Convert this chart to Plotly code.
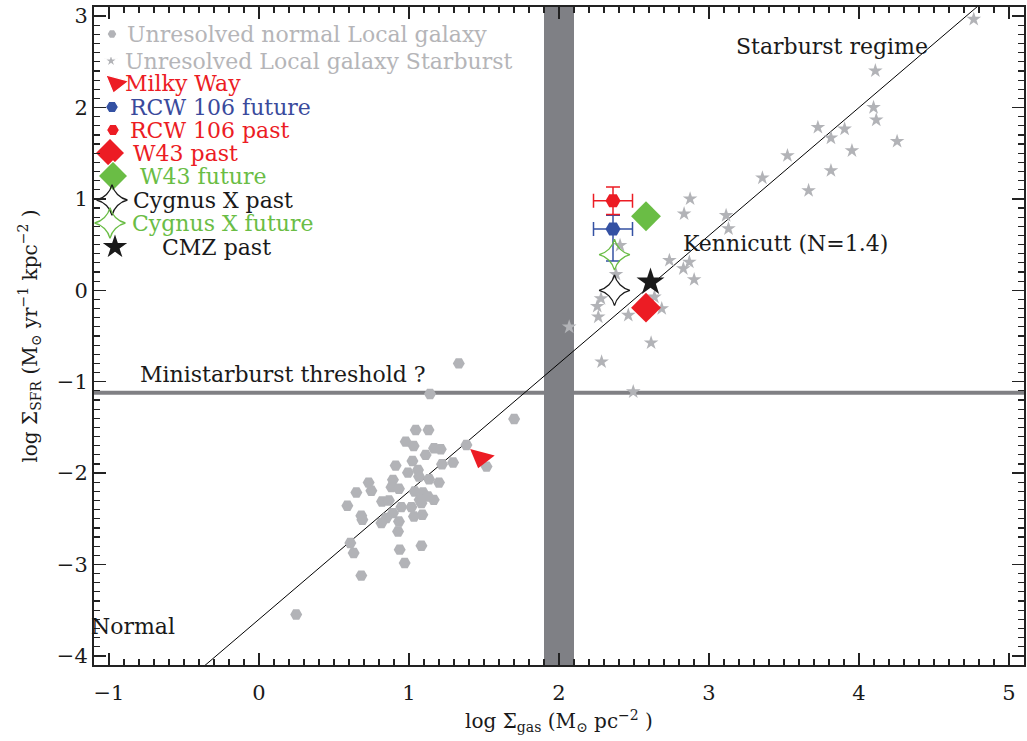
import plotly.graph_objects as go

# ---------------- data ----------------
# Unresolved normal local galaxies (log Sigma_gas, log Sigma_SFR)
normal_x = [1.332, 1.140, 1.701, 1.045, 1.130, 0.978, 1.031, 1.167, 1.212, 1.383,
            1.111, 1.023, 1.294, 1.220, 0.911, 1.517, 1.060, 0.993, 1.067, 1.134,
            0.893, 0.731, 1.200, 0.883, 0.933, 0.749, 0.649, 1.038, 1.093, 1.071,
            1.165, 0.820, 0.866, 0.589, 0.949, 1.016, 0.893, 0.682, 0.689, 1.089,
            1.033, 0.849, 0.933, 0.816, 0.927, 0.609, 0.631, 0.938, 1.083, 0.971,
            0.682, 0.248, 1.127, 1.083]
normal_y = [-0.800, -1.135, -1.408, -1.528, -1.528, -1.656, -1.703, -1.728, -1.739, -1.692,
            -1.801, -1.867, -1.885, -1.903, -1.918, -1.929, -1.965, -1.995, -2.038, -2.067,
            -2.074, -2.104, -2.104, -2.154, -2.172, -2.194, -2.213, -2.202, -2.213, -2.293,
            -2.293, -2.311, -2.300, -2.358, -2.372, -2.372, -2.438, -2.467, -2.511, -2.456,
            -2.475, -2.492, -2.530, -2.547, -2.639, -2.765, -2.874, -2.838, -2.795, -2.984,
            -3.122, -3.548, -2.256, -2.329]

# Unresolved local starburst galaxies
sb_x = [4.765, 4.109, 4.097, 4.115, 3.726, 3.904, 3.813, 4.254, 3.953, 3.523,
        3.813, 3.356, 3.664, 3.114, 3.130, 2.874, 2.834, 2.407, 2.736, 2.869,
        2.829, 2.901, 2.380, 2.280, 2.255, 2.262, 2.462, 2.685, 2.636, 2.068,
        2.614, 2.284, 2.495]
sb_y = [2.966, 2.402, 2.001, 1.864, 1.783, 1.765, 1.667, 1.630, 1.528, 1.474,
        1.310, 1.230, 1.092, 0.819, 0.674, 1.001, 0.837, 0.491, 0.328, 0.309,
        0.237, 0.117, 0.175, -0.091, -0.175, -0.291, -0.273, -0.200, -0.073, -0.401,
        -0.575, -0.783, -1.110]

mw_x, mw_y = [1.48], [-1.83]
rcw_future_x, rcw_future_y = [2.36], [0.67]
rcw_future_ex, rcw_future_ey_up, rcw_future_ey_down = [0.13], [0.15], [0.35]
rcw_past_x, rcw_past_y = [2.36], [0.98]
rcw_past_ex, rcw_past_ey = [0.13], [0.15]
w43_past_x, w43_past_y = [2.58], [-0.19]
w43_future_x, w43_future_y = [2.58], [0.81]
cyg_past_x, cyg_past_y = [2.37], [0.00]
cyg_future_x, cyg_future_y = [2.37], [0.39]
cmz_past_x, cmz_past_y = [2.61], [0.09]

ks_slope, ks_intercept = 1.4, -3.6
ks_x = [-1.1, 5.1]
threshold_y = -1.12
band_x = [1.9, 2.1]

x_ticks = [-1, 0, 1, 2, 3, 4, 5]
y_ticks = [-4, -3, -2, -1, 0, 1, 2, 3]
x_range = [-1.1, 5.1]
y_range = [-4.1, 3.1]

legend_labels = ["Unresolved normal Local galaxy", "Unresolved Local galaxy Starburst",
                 "Milky Way", "RCW 106 future", "RCW 106 past", "W43 past", "W43 future",
                 "Cygnus X past", "Cygnus X future", "CMZ past"]

# ---------------- styles ----------------
RED = "#ec1c24"
BLUE = "#3451a3"
GREEN = "#6abd45"
GREY = "#b2b3b7"
BLACK = "#1a1a1a"
FONT = "DejaVu Serif"
TXT = 22

fig = go.Figure()

# Kennicutt relation
fig.add_trace(go.Scatter(x=ks_x, y=[ks_slope * v + ks_intercept for v in ks_x],
                         mode="lines", line=dict(color="black", width=1), hoverinfo="skip"))

fig.add_trace(go.Scatter(x=normal_x, y=normal_y, mode="markers",
                         marker=dict(symbol="hexagon2", size=12, color=GREY, opacity=1)))
fig.add_trace(go.Scatter(x=sb_x, y=sb_y, mode="markers",
                         marker=dict(symbol="star", size=11, color=GREY, opacity=1)))

fig.add_trace(go.Scatter(x=mw_x, y=mw_y, mode="markers",
                         marker=dict(symbol="triangle-down", angle=15, size=22, color=RED)))
fig.add_trace(go.Scatter(x=rcw_future_x, y=rcw_future_y, mode="markers",
                         error_x=dict(type="data", array=rcw_future_ex, color=BLUE, thickness=1.5, width=7),
                         error_y=dict(type="data", array=rcw_future_ey_up, arrayminus=rcw_future_ey_down,
                                      symmetric=False, color=BLUE, thickness=1.5, width=7),
                         marker=dict(symbol="hexagon2", size=15, color=BLUE)))
fig.add_trace(go.Scatter(x=rcw_past_x, y=rcw_past_y, mode="markers",
                         error_x=dict(type="data", array=rcw_past_ex, color=RED, thickness=1.5, width=7),
                         error_y=dict(type="data", array=rcw_past_ey, color=RED, thickness=1.5, width=7),
                         marker=dict(symbol="hexagon2", size=15, color=RED)))
fig.add_trace(go.Scatter(x=w43_past_x, y=w43_past_y, mode="markers",
                         marker=dict(symbol="diamond", size=23, color=RED)))
fig.add_trace(go.Scatter(x=w43_future_x, y=w43_future_y, mode="markers",
                         marker=dict(symbol="diamond", size=23, color=GREEN)))
fig.add_trace(go.Scatter(x=cyg_past_x, y=cyg_past_y, mode="markers",
                         marker=dict(symbol="star-diamond-open", size=22, color=BLACK,
                                     line=dict(width=1.3))))
fig.add_trace(go.Scatter(x=cyg_future_x, y=cyg_future_y, mode="markers",
                         marker=dict(symbol="star-diamond-open", size=22, color=GREEN,
                                     line=dict(width=1.3))))
fig.add_trace(go.Scatter(x=cmz_past_x, y=cmz_past_y, mode="markers",
                         marker=dict(symbol="star", size=21, color=BLACK)))

# ---------------- manual legend (overlay axes in pixel units) ----------------
PLOT_W, PLOT_H = 930, 658
leg_row_y = [27, 54, 76, 100, 123, 146, 169, 193, 216, 240]
leg_mark_x = [18, 17, 22, 18, 19, 16, 19, 18, 16, 21]
leg_text_x = [31, 29, 29, 34, 34, 37, 44, 37, 36, 66]
leg_symbols = ["hexagon2", "star", "triangle-down", "hexagon2", "hexagon2", "diamond",
               "diamond", "star-diamond-open", "star-diamond-open", "star"]
leg_sizes = [10, 10, 21, 13, 13, 23, 23, 22, 22, 21]
leg_colors = [GREY, GREY, RED, BLUE, RED, RED, GREEN, BLACK, GREEN, BLACK]
leg_text_colors = ["#b5b5b8", "#b5b5b8", RED, "#3a4a9c", RED, RED, GREEN, BLACK, GREEN, BLACK]
leg_angles = [0, 0, 15, 0, 0, 0, 0, 0, 0, 0]

fig.add_trace(go.Scatter(x=leg_mark_x, y=leg_row_y, xaxis="x2", yaxis="y2", mode="markers",
                         marker=dict(symbol=leg_symbols, size=leg_sizes, color=leg_colors,
                                     angle=leg_angles, opacity=1, line=dict(width=1.3)),
                         hoverinfo="skip"))
for lab, tx, ty, col in zip(legend_labels, leg_text_x, leg_row_y, leg_text_colors):
    fig.add_annotation(x=tx, y=ty, xref="x2", yref="y2", text=lab, showarrow=False,
                       xanchor="left", yanchor="middle",
                       font=dict(family=FONT, size=TXT, color=col))

# ---------------- region labels ----------------
region_labels = [("Starburst regime", 3.82, 2.67), ("Kennicutt (N=1.4)", 3.51, 0.51),
                 ("Ministarburst threshold ?", 0.16, -0.92), ("Normal", -0.84, -3.68)]
for txt, lx, ly in region_labels:
    fig.add_annotation(x=lx, y=ly, text=txt, showarrow=False, xanchor="center", yanchor="middle",
                       font=dict(family=FONT, size=TXT, color=BLACK))

# threshold line and vertical band
fig.add_shape(type="line", xref="paper", x0=0, x1=1, y0=threshold_y, y1=threshold_y,
              line=dict(color="#808084", width=4), layer="below")
fig.add_shape(type="rect", yref="paper", x0=band_x[0], x1=band_x[1], y0=0, y1=1,
              fillcolor="#7f8085", line=dict(width=0), layer="below")

tick_common = dict(ticks="inside", ticklen=12, tickwidth=1.5, tickcolor="#222",
                   showgrid=False, zeroline=False, automargin=False,
                   minor=dict(dtick=0.1, ticks="inside", ticklen=6, tickwidth=1.2,
                              tickcolor="#222", showgrid=False))

fig.update_layout(
    width=1027, height=741,
    margin=dict(l=94, r=3, t=7, b=76, autoexpand=False),
    plot_bgcolor="white", paper_bgcolor="white",
    showlegend=False, hovermode=False,
    xaxis=dict(range=x_range, tickvals=x_ticks, ticklabelstandoff=8,
               showline=True, linewidth=2, linecolor="#222", mirror=True,
               tickfont=dict(family=FONT, size=21, color=BLACK),
               title=dict(text="log Σ<sub>gas</sub> (M<sub>⊙</sub> pc<sup>−2</sup> )",
                          font=dict(family=FONT, size=20, color=BLACK), standoff=10),
               **tick_common),
    yaxis=dict(range=y_range, tickvals=y_ticks, ticklabelstandoff=0,
               showline=True, linewidth=2, linecolor="#222", mirror=True,
               tickfont=dict(family=FONT, size=21, color=BLACK),
               title=dict(text="log Σ<sub>SFR</sub> (M<sub>⊙</sub> yr<sup>−1</sup> kpc<sup>−2</sup> )",
                          font=dict(family=FONT, size=20, color=BLACK), standoff=14),
               **tick_common),
    xaxis2=dict(overlaying="x", range=[0, PLOT_W], visible=False, automargin=False),
    yaxis2=dict(overlaying="y", range=[PLOT_H, 0], visible=False, automargin=False),
    xaxis3=dict(overlaying="x", side="top", range=x_range, tickvals=x_ticks,
                showticklabels=False, **tick_common),
    yaxis3=dict(overlaying="y", side="right", range=y_range, tickvals=y_ticks,
                showticklabels=False, **tick_common),
)

# invisible carrier trace so the mirrored tick axes are drawn
fig.add_trace(go.Scatter(x=[x_range[0]], y=[y_range[0]], xaxis="x3", yaxis="y3",
                         mode="markers", marker=dict(opacity=0), hoverinfo="skip"))

fig.write_html("out.html", config={"displayModeBar": False, "staticPlot": True},
               post_script="document.body.style.margin='0px';document.body.style.overflow='hidden';")
